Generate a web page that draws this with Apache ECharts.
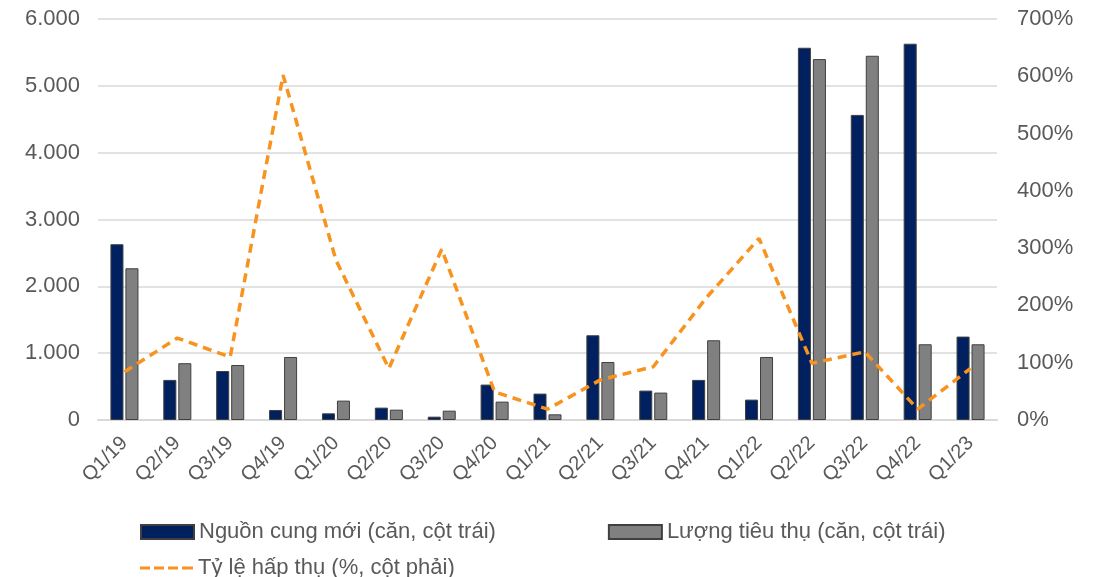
<!DOCTYPE html>
<html><head><meta charset="utf-8">
<script src="https://cdn.jsdelivr.net/npm/echarts@6/dist/echarts.min.js"></script>
<style>html,body{margin:0;padding:0;background:#fff}#c{width:1097px;height:577px}</style>
</head><body><div id="c"></div>
<script>
var categories = ['Q1/19','Q2/19','Q3/19','Q4/19','Q1/20','Q2/20','Q3/20','Q4/20','Q1/21','Q2/21','Q3/21','Q4/21','Q1/22','Q2/22','Q3/22','Q4/22','Q1/23'];
var supply = [2630,600,733,150,100,185,50,530,395,1268,440,600,305,5570,4565,5630,1248];
var sales = [2270,850,823,943,290,155,140,275,85,868,410,1193,943,5400,5450,1133,1133];
var absorption = [84,143,110,602,279,90,298,49,19,70,93,213,317,99,119,19,90];
var nameSupply = 'Nguồn cung mới (căn, cột trái)';
var nameSales = 'Lượng tiêu thụ (căn, cột trái)';
var nameRate = 'Tỷ lệ hấp thụ (%, cột phải)';

var font = 'Liberation Sans, Arial, sans-serif';
var txt = '#595959';
var chart = echarts.init(document.getElementById('c'));
chart.setOption({
  animation: false,
  textStyle: {fontFamily: font},
  grid: {left: 98, right: 100, top: 19, bottom: 157},
  legend: [{
    data: [nameSupply, nameSales],
    icon: 'rect',
    left: 135, top: 516, itemWidth: 53, itemHeight: 14, itemGap: 112,
    textStyle: {fontSize: 22, color: txt, fontFamily: font}
  }, {
    data: [{name: nameRate, icon: 'path://M0 0h10v3H0z M14 0h10v3H14z M28 0h10v3H28z M42 0h11v3H42z'}],
    left: 135, top: 552, itemWidth: 53, itemHeight: 4,
    textStyle: {fontSize: 22, color: txt, fontFamily: font}
  }],
  xAxis: {
    type: 'category', data: categories,
    axisLine: {lineStyle: {color: '#d9d9d9', width: 2}},
    axisTick: {show: false},
    axisLabel: {rotate: 45, fontSize: 20, color: txt, margin: 20, interval: 0}
  },
  yAxis: [{
    type: 'value', min: 0, max: 6000, interval: 1000,
    axisLabel: {fontSize: 22, color: txt, margin: 18,
      formatter: function(v){ return v === 0 ? '0' : (v/1000).toFixed(3); }},
    splitLine: {lineStyle: {color: '#d9d9d9', width: 1.5}},
    axisLine: {show: false}, axisTick: {show: false}
  }, {
    type: 'value', min: 0, max: 700, interval: 100,
    axisLabel: {fontSize: 22, color: txt, margin: 20, formatter: '{value}%'},
    splitLine: {show: false}, axisLine: {show: false}, axisTick: {show: false}
  }],
  series: [{
    name: nameSupply, type: 'bar', data: supply,
    barGap: '15%', barCategoryGap: '47%',
    itemStyle: {color: '#002060', borderColor: '#404040', borderWidth: 1}
  }, {
    name: nameSales, type: 'bar', data: sales,
    itemStyle: {color: '#808080', borderColor: '#404040', borderWidth: 1}
  }, {
    name: nameRate, type: 'line', yAxisIndex: 1, data: absorption,
    symbol: 'none',
    lineStyle: {color: '#F7931E', width: 3.5, type: [9, 6]},
    itemStyle: {color: '#F7931E'}
  }]
});
</script></body></html>
